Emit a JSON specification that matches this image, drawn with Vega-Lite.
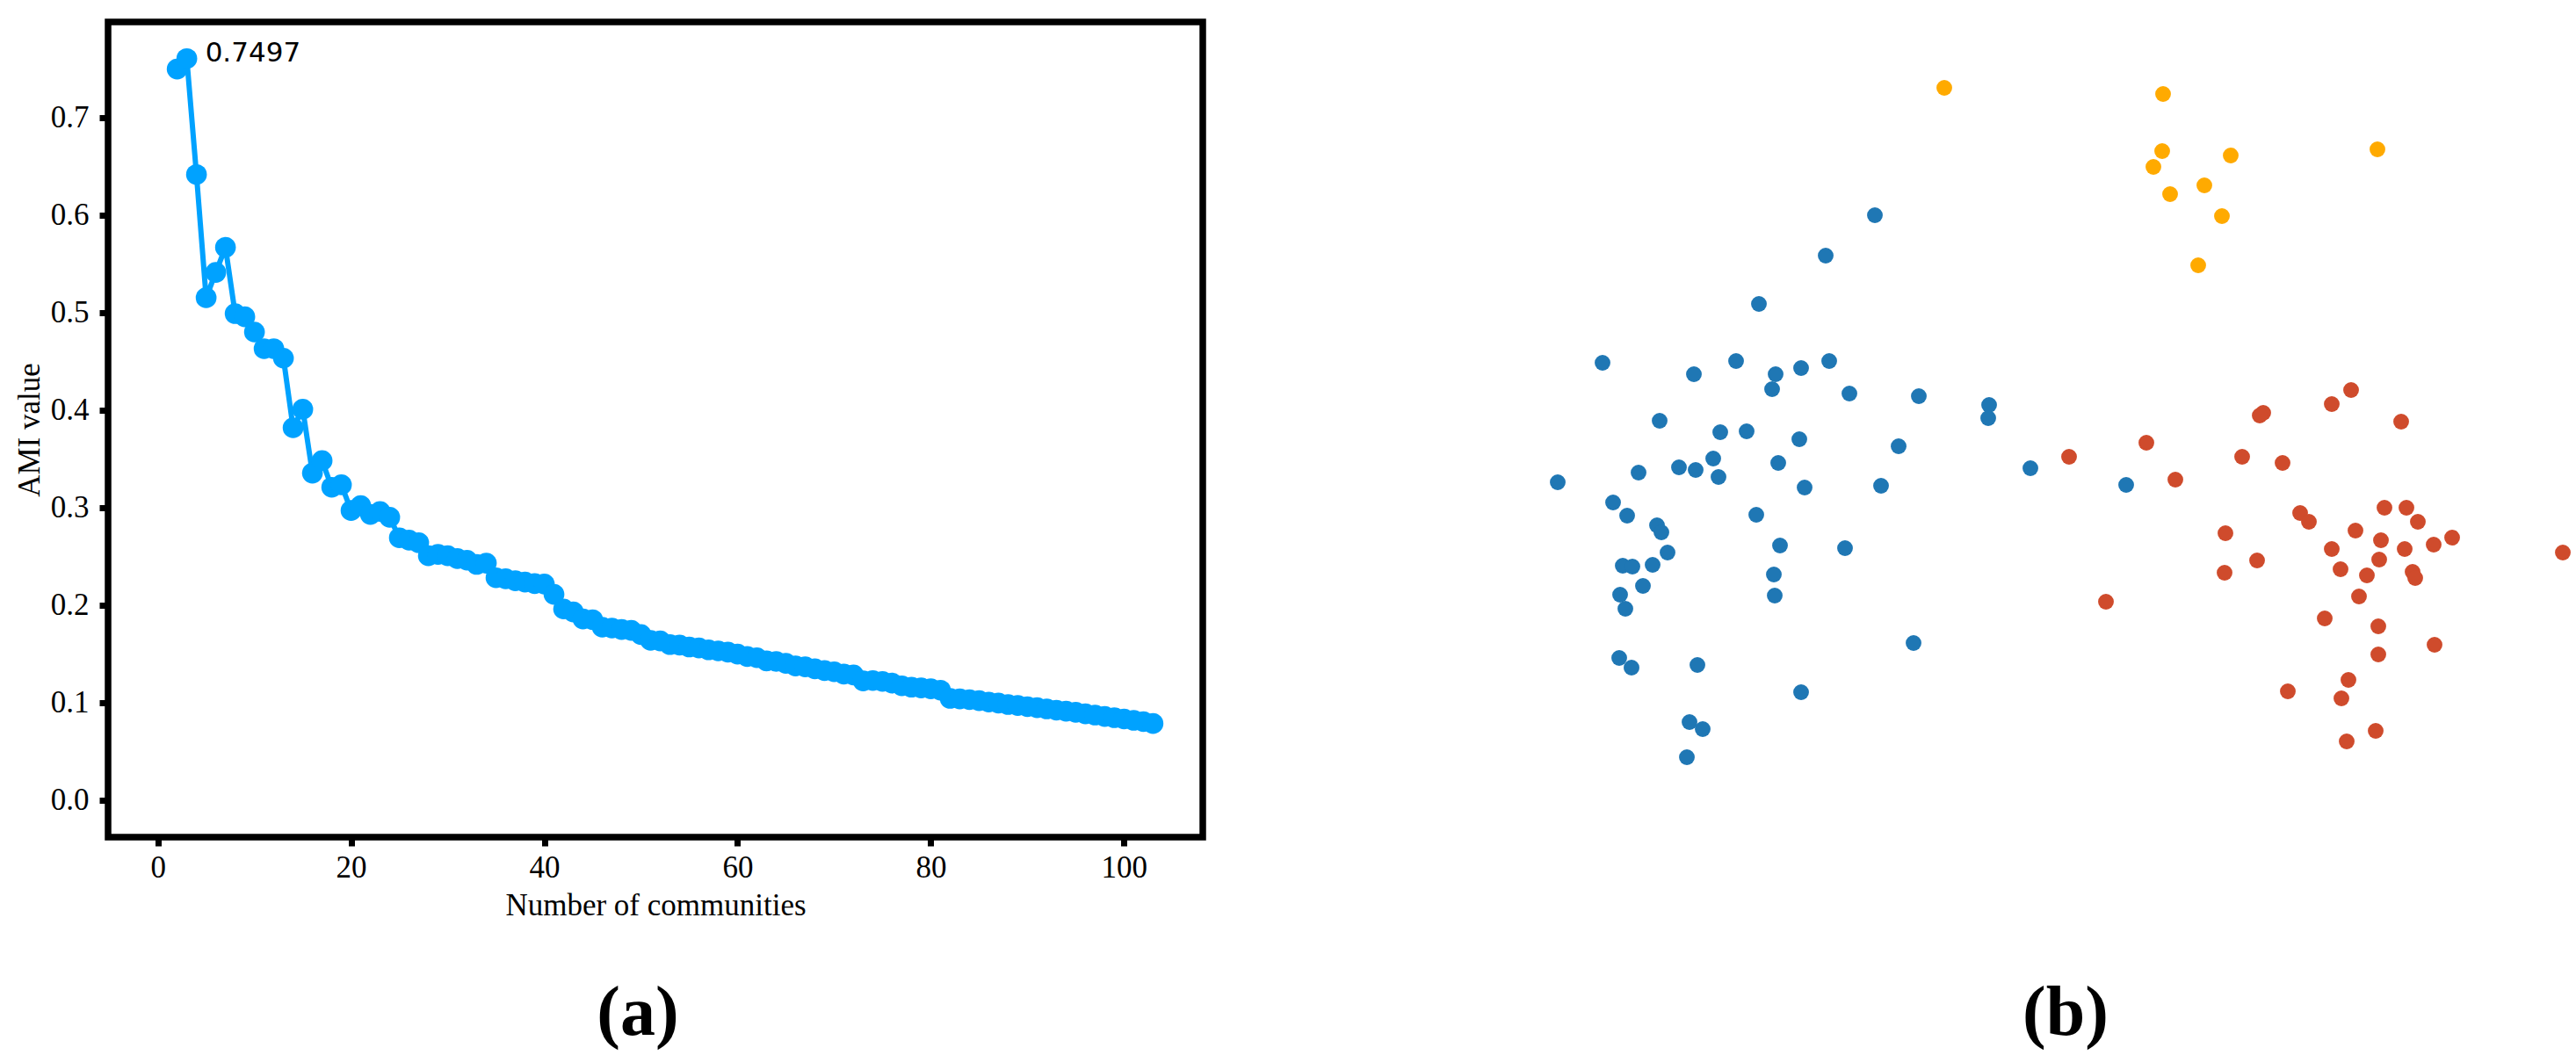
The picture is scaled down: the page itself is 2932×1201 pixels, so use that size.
{
  "$schema": "https://vega.github.io/schema/vega-lite/v6.json",
  "background": "white",
  "padding": {"left": 12, "top": 21, "right": 0, "bottom": 0},
  "spacing": 328,
  "config": {
    "view": {"stroke": null},
    "font": "Liberation Serif",
    "axis": {
      "labelFont": "Liberation Serif",
      "labelFontSize": 35,
      "labelColor": "black",
      "titleFont": "Liberation Serif",
      "titleFontSize": 35,
      "titleFontWeight": "normal",
      "titleColor": "black",
      "grid": false,
      "domain": false,
      "tickColor": "black",
      "tickWidth": 7,
      "tickSize": 10
    }
  },
  "hconcat": [
    {
      "width": 1246,
      "height": 928,
      "view": {"stroke": "black", "strokeWidth": 7.5, "fill": "white"},
      "title": {
        "text": "(a)",
        "orient": "bottom",
        "anchor": "middle",
        "frame": "group",
        "font": "Liberation Serif",
        "fontSize": 80,
        "fontWeight": "bold",
        "color": "black",
        "baseline": "top",
        "offset": 67,
        "dx": -20
      },
      "data": {
        "values": [
          {"n": 2, "ami": 0.7497}, {"n": 3, "ami": 0.7604}, {"n": 4, "ami": 0.6415}, {"n": 5, "ami": 0.5152},
          {"n": 6, "ami": 0.5412}, {"n": 7, "ami": 0.5669}, {"n": 8, "ami": 0.4989}, {"n": 9, "ami": 0.4956},
          {"n": 10, "ami": 0.480}, {"n": 11, "ami": 0.4629}, {"n": 12, "ami": 0.4629}, {"n": 13, "ami": 0.4532},
          {"n": 14, "ami": 0.3818}, {"n": 15, "ami": 0.4008}, {"n": 16, "ami": 0.3353}, {"n": 17, "ami": 0.3481},
          {"n": 18, "ami": 0.3208}, {"n": 19, "ami": 0.3233}, {"n": 20, "ami": 0.297}, {"n": 21, "ami": 0.302},
          {"n": 22, "ami": 0.293}, {"n": 23, "ami": 0.296}, {"n": 24, "ami": 0.290}, {"n": 25, "ami": 0.269},
          {"n": 26, "ami": 0.2666}, {"n": 27, "ami": 0.264}, {"n": 28, "ami": 0.2506}, {"n": 29, "ami": 0.252},
          {"n": 30, "ami": 0.2506}, {"n": 31, "ami": 0.2477}, {"n": 32, "ami": 0.246}, {"n": 33, "ami": 0.2417},
          {"n": 34, "ami": 0.243}, {"n": 35, "ami": 0.228}, {"n": 36, "ami": 0.227}, {"n": 37, "ami": 0.225},
          {"n": 38, "ami": 0.2236}, {"n": 39, "ami": 0.222}, {"n": 40, "ami": 0.2215}, {"n": 41, "ami": 0.211},
          {"n": 42, "ami": 0.196}, {"n": 43, "ami": 0.193}, {"n": 44, "ami": 0.1857}, {"n": 45, "ami": 0.185},
          {"n": 46, "ami": 0.1773}, {"n": 47, "ami": 0.1764}, {"n": 48, "ami": 0.1749}, {"n": 49, "ami": 0.174},
          {"n": 50, "ami": 0.1698}, {"n": 51, "ami": 0.1638}, {"n": 52, "ami": 0.1632}, {"n": 53, "ami": 0.1595},
          {"n": 54, "ami": 0.159}, {"n": 55, "ami": 0.157}, {"n": 56, "ami": 0.156}, {"n": 57, "ami": 0.1541},
          {"n": 58, "ami": 0.153}, {"n": 59, "ami": 0.1518}, {"n": 60, "ami": 0.1497}, {"n": 61, "ami": 0.1472},
          {"n": 62, "ami": 0.146}, {"n": 63, "ami": 0.1427}, {"n": 64, "ami": 0.1422}, {"n": 65, "ami": 0.1403},
          {"n": 66, "ami": 0.1376}, {"n": 67, "ami": 0.1367}, {"n": 68, "ami": 0.1346}, {"n": 69, "ami": 0.1328},
          {"n": 70, "ami": 0.1316}, {"n": 71, "ami": 0.1292}, {"n": 72, "ami": 0.1283}, {"n": 73, "ami": 0.1223},
          {"n": 74, "ami": 0.1226}, {"n": 75, "ami": 0.1217}, {"n": 76, "ami": 0.120}, {"n": 77, "ami": 0.1172},
          {"n": 78, "ami": 0.1158}, {"n": 79, "ami": 0.1151}, {"n": 80, "ami": 0.1142}, {"n": 81, "ami": 0.1127},
          {"n": 82, "ami": 0.1043}, {"n": 83, "ami": 0.1037}, {"n": 84, "ami": 0.103}, {"n": 85, "ami": 0.102},
          {"n": 86, "ami": 0.1005}, {"n": 87, "ami": 0.0995}, {"n": 88, "ami": 0.098}, {"n": 89, "ami": 0.097},
          {"n": 90, "ami": 0.0958}, {"n": 91, "ami": 0.0948}, {"n": 92, "ami": 0.0935}, {"n": 93, "ami": 0.0922},
          {"n": 94, "ami": 0.0912}, {"n": 95, "ami": 0.090}, {"n": 96, "ami": 0.0885}, {"n": 97, "ami": 0.0872},
          {"n": 98, "ami": 0.0858}, {"n": 99, "ami": 0.0845}, {"n": 100, "ami": 0.0832}, {"n": 101, "ami": 0.0818},
          {"n": 102, "ami": 0.0805}, {"n": 103, "ami": 0.0785}
        ]
      },
      "encoding": {
        "x": {
          "field": "n", "type": "quantitative",
          "scale": {"domain": [-5.15, 108.15], "nice": false, "zero": false},
          "axis": {"values": [0, 20, 40, 60, 80, 100], "title": "Number of communities", "labelPadding": 7, "titlePadding": 8, "labelFlush": false}
        },
        "y": {
          "field": "ami", "type": "quantitative",
          "scale": {"domain": [-0.038, 0.798], "nice": false, "zero": false},
          "axis": {"values": [0, 0.1, 0.2, 0.3, 0.4, 0.5, 0.6, 0.7], "format": ".1f", "title": "AMI value", "labelPadding": 12, "titlePadding": 6, "labelFlush": false}
        }
      },
      "layer": [
        {"mark": {"type": "line", "color": "#00a2ff", "strokeWidth": 6}},
        {"mark": {"type": "circle", "color": "#00a2ff", "size": 560, "opacity": 1}},
        {
          "transform": [{"filter": "datum.n == 2"}],
          "mark": {"type": "text", "font": "DejaVu Sans", "fontSize": 31, "align": "left", "baseline": "alphabetic", "dx": 32, "dy": -9, "color": "black"},
          "encoding": {"text": {"value": "0.7497"}}
        }
      ]
    },
    {
      "width": 1232,
      "height": 928,
      "title": {
        "text": "(b)",
        "orient": "bottom",
        "anchor": "middle",
        "frame": "group",
        "font": "Liberation Serif",
        "fontSize": 80,
        "fontWeight": "bold",
        "color": "black",
        "baseline": "top",
        "offset": 162,
        "dx": 34
      },
      "data": {
        "values": [
          {"x": 51.2, "y": 85.3, "c": "2"}, {"x": 76.1, "y": 84.6, "c": "2"}, {"x": 76.0, "y": 78.1, "c": "2"},
          {"x": 83.8, "y": 77.6, "c": "2"}, {"x": 100.5, "y": 78.3, "c": "2"}, {"x": 75.0, "y": 76.3, "c": "2"},
          {"x": 80.8, "y": 74.2, "c": "2"}, {"x": 76.9, "y": 73.2, "c": "2"}, {"x": 82.8, "y": 70.7, "c": "2"},
          {"x": 80.1, "y": 65.1, "c": "2"},
          {"x": 43.3, "y": 70.8, "c": "0"}, {"x": 37.7, "y": 66.2, "c": "0"}, {"x": 30.1, "y": 60.7, "c": "0"},
          {"x": 12.3, "y": 54.0, "c": "0"}, {"x": 22.7, "y": 52.7, "c": "0"}, {"x": 27.5, "y": 54.2, "c": "0"},
          {"x": 32.0, "y": 52.7, "c": "0"}, {"x": 34.9, "y": 53.4, "c": "0"}, {"x": 38.1, "y": 54.2, "c": "0"},
          {"x": 31.6, "y": 51.0, "c": "0"}, {"x": 40.4, "y": 50.5, "c": "0"}, {"x": 48.3, "y": 50.2, "c": "0"},
          {"x": 56.3, "y": 49.2, "c": "0"}, {"x": 56.2, "y": 47.7, "c": "0"}, {"x": 18.8, "y": 47.4, "c": "0"},
          {"x": 25.7, "y": 46.1, "c": "0"}, {"x": 28.7, "y": 46.2, "c": "0"}, {"x": 34.7, "y": 45.3, "c": "0"},
          {"x": 46.0, "y": 44.5, "c": "0"}, {"x": 24.9, "y": 43.1, "c": "0"}, {"x": 32.3, "y": 42.6, "c": "0"},
          {"x": 21.0, "y": 42.1, "c": "0"}, {"x": 22.9, "y": 41.8, "c": "0"}, {"x": 16.4, "y": 41.5, "c": "0"},
          {"x": 25.5, "y": 41.0, "c": "0"}, {"x": 61.0, "y": 42.0, "c": "0"}, {"x": 71.9, "y": 40.1, "c": "0"},
          {"x": 7.2, "y": 40.4, "c": "0"}, {"x": 35.3, "y": 39.8, "c": "0"}, {"x": 44.0, "y": 40.0, "c": "0"},
          {"x": 13.5, "y": 38.1, "c": "0"}, {"x": 15.1, "y": 36.6, "c": "0"}, {"x": 29.8, "y": 36.7, "c": "0"},
          {"x": 18.5, "y": 35.5, "c": "0"}, {"x": 19.0, "y": 34.7, "c": "0"}, {"x": 32.5, "y": 33.2, "c": "0"},
          {"x": 39.9, "y": 32.9, "c": "0"}, {"x": 19.7, "y": 32.4, "c": "0"}, {"x": 14.6, "y": 30.9, "c": "0"},
          {"x": 15.7, "y": 30.8, "c": "0"}, {"x": 18.0, "y": 31.0, "c": "0"}, {"x": 31.8, "y": 29.9, "c": "0"},
          {"x": 16.9, "y": 28.6, "c": "0"}, {"x": 14.3, "y": 27.6, "c": "0"}, {"x": 31.9, "y": 27.5, "c": "0"},
          {"x": 14.9, "y": 26.0, "c": "0"}, {"x": 47.7, "y": 22.1, "c": "0"}, {"x": 14.2, "y": 20.4, "c": "0"},
          {"x": 15.6, "y": 19.3, "c": "0"}, {"x": 23.1, "y": 19.6, "c": "0"}, {"x": 34.9, "y": 16.5, "c": "0"},
          {"x": 22.2, "y": 13.1, "c": "0"}, {"x": 23.7, "y": 12.3, "c": "0"}, {"x": 21.9, "y": 9.1, "c": "0"},
          {"x": 97.5, "y": 50.9, "c": "1"}, {"x": 95.3, "y": 49.3, "c": "1"}, {"x": 87.5, "y": 48.3, "c": "1"},
          {"x": 87.1, "y": 48.0, "c": "1"}, {"x": 103.2, "y": 47.3, "c": "1"}, {"x": 74.2, "y": 44.9, "c": "1"},
          {"x": 65.4, "y": 43.3, "c": "1"}, {"x": 85.1, "y": 43.3, "c": "1"}, {"x": 89.7, "y": 42.6, "c": "1"},
          {"x": 77.5, "y": 40.7, "c": "1"}, {"x": 91.7, "y": 36.9, "c": "1"}, {"x": 92.7, "y": 35.9, "c": "1"},
          {"x": 101.3, "y": 37.5, "c": "1"}, {"x": 103.8, "y": 37.5, "c": "1"}, {"x": 105.1, "y": 35.9, "c": "1"},
          {"x": 83.2, "y": 34.6, "c": "1"}, {"x": 98.0, "y": 34.9, "c": "1"}, {"x": 100.9, "y": 33.8, "c": "1"},
          {"x": 109.0, "y": 34.1, "c": "1"}, {"x": 106.9, "y": 33.3, "c": "1"}, {"x": 95.3, "y": 32.8, "c": "1"},
          {"x": 103.6, "y": 32.8, "c": "1"}, {"x": 121.6, "y": 32.4, "c": "1"}, {"x": 86.8, "y": 31.5, "c": "1"},
          {"x": 100.7, "y": 31.6, "c": "1"}, {"x": 96.3, "y": 30.5, "c": "1"}, {"x": 99.3, "y": 29.8, "c": "1"},
          {"x": 83.1, "y": 30.1, "c": "1"}, {"x": 104.5, "y": 30.2, "c": "1"}, {"x": 104.8, "y": 29.5, "c": "1"},
          {"x": 98.4, "y": 27.4, "c": "1"}, {"x": 69.6, "y": 26.8, "c": "1"}, {"x": 94.5, "y": 24.9, "c": "1"},
          {"x": 100.6, "y": 24.0, "c": "1"}, {"x": 107.0, "y": 21.9, "c": "1"}, {"x": 100.6, "y": 20.8, "c": "1"},
          {"x": 97.2, "y": 17.9, "c": "1"}, {"x": 90.3, "y": 16.6, "c": "1"}, {"x": 96.4, "y": 15.8, "c": "1"},
          {"x": 100.3, "y": 12.1, "c": "1"}, {"x": 97.0, "y": 10.9, "c": "1"}
        ]
      },
      "mark": {"type": "circle", "size": 320, "opacity": 1},
      "encoding": {
        "x": {"field": "x", "type": "quantitative", "scale": {"domain": [0, 123.2], "nice": false, "zero": false}, "axis": null},
        "y": {"field": "y", "type": "quantitative", "scale": {"domain": [0, 92.8], "nice": false, "zero": false}, "axis": null},
        "color": {"field": "c", "type": "nominal", "scale": {"domain": ["0", "1", "2"], "range": ["#1f77b4", "#cf4b2c", "#ffaa00"]}, "legend": null}
      }
    }
  ]
}
